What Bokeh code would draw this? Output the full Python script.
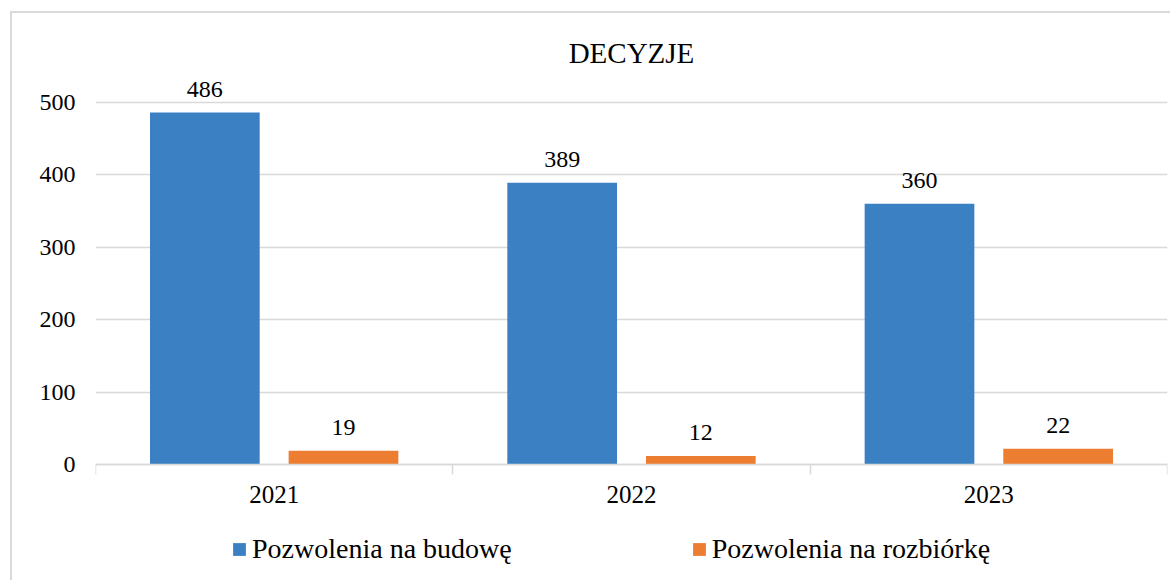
import numpy as np
from bokeh.plotting import figure
from bokeh.models import (Range1d, FixedTicker, Legend, LegendItem, ColumnDataSource)
from bokeh.core.properties import value
from bokeh.embed import file_html
from bokeh.resources import INLINE

# ---- data ----
years = ["2021", "2022", "2023"]
budowa = [486, 389, 360]
rozbiorka = [19, 12, 22]
series_names = ["Pozwolenia na budowę", "Pozwolenia na rozbiórkę"]
y_ticks = [0, 100, 200, 300, 400, 500]
title_text = "DECYZJE"

FONT = "Liberation Serif"
BLUE = "#3a80c3"
ORANGE = "#ed7d31"
GRID = "#d9d9d9"

centers = np.arange(len(years)) + 0.5
bounds = list(range(len(years) + 1))
off = 0.194
bw = 0.307

src = ColumnDataSource(dict(
    xb=centers - off, xr=centers + off,
    b=budowa, r=rozbiorka,
    bl=[str(v) for v in budowa], rl=[str(v) for v in rozbiorka],
))

# frame extends below the zero line so that the legend can sit inside it
p = figure(frame_width=1072, frame_height=507,
           min_border_left=83, min_border_right=3,
           min_border_top=60, min_border_bottom=0,
           x_range=Range1d(0, len(years)), y_range=Range1d(-160, 540),
           output_backend="svg", toolbar_location=None, title=title_text)

p.title.text_font = FONT
p.title.text_font_size = "29px"
p.title.text_font_style = "normal"
p.title.text_color = "#000000"
p.title.align = "center"
p.title.standoff = 9

p.outline_line_color = None
p.background_fill_color = "white"
p.border_fill_color = "white"
p.styles = {"margin-left": "10px", "margin-top": "11px",
            "border-left": "2px solid #d9d9d9", "border-top": "2px solid #d9d9d9"}

rb = p.vbar(x="xb", top="b", width=bw, source=src, fill_color=BLUE, line_color=None)
rr = p.vbar(x="xr", top="r", width=bw, source=src, fill_color=ORANGE, line_color=None)

for xcol, ycol, tcol in (("xb", "b", "bl"), ("xr", "r", "rl")):
    p.text(x=xcol, y=ycol, text=tcol, source=src, text_align="center",
           text_baseline="alphabetic", y_offset=-23,
           text_font=value(FONT), text_font_size="24px", text_color="#000000")

# y axis
p.yaxis.ticker = FixedTicker(ticks=y_ticks)
p.yaxis.axis_line_color = None
p.yaxis.major_tick_line_color = None
p.yaxis.minor_tick_line_color = None
p.yaxis.major_tick_out = 0
p.yaxis.major_tick_in = 0
p.yaxis.major_label_standoff = 20
p.yaxis.major_label_text_font = FONT
p.yaxis.major_label_text_font_size = "24px"
p.yaxis.major_label_text_color = "#000000"

p.ygrid.ticker = FixedTicker(ticks=y_ticks)
p.ygrid.grid_line_color = GRID
p.ygrid.grid_line_width = 1.5
p.xgrid.grid_line_color = None

# x axis at y = 0: labels at category centres, tick marks at category boundaries
p.xaxis.fixed_location = 0
p.xaxis.ticker = FixedTicker(ticks=[float(c) for c in centers], minor_ticks=bounds)
p.xaxis.major_label_overrides = {float(c): y for c, y in zip(centers, years)}
p.xaxis.axis_line_color = GRID
p.xaxis.axis_line_width = 1.5
p.xaxis.major_tick_line_color = None
p.xaxis.major_tick_out = 0
p.xaxis.major_tick_in = 0
p.xaxis.minor_tick_line_color = GRID
p.xaxis.minor_tick_line_width = 1.5
p.xaxis.minor_tick_out = 10
p.xaxis.minor_tick_in = 0
p.xaxis.major_label_standoff = 11
p.xaxis.major_label_text_font = FONT
p.xaxis.major_label_text_font_size = "25px"
p.xaxis.major_label_text_color = "#000000"

legend = Legend(items=[LegendItem(label=series_names[0], renderers=[rb]),
                       LegendItem(label=series_names[1], renderers=[rr])],
                orientation="horizontal", location=(136, 15))
legend.border_line_color = None
legend.background_fill_alpha = 0
legend.label_text_font = FONT
legend.label_text_font_size = "28px"
legend.label_text_color = "#000000"
legend.glyph_width = 16
legend.glyph_height = 16
legend.spacing = 179
legend.label_standoff = 5
legend.padding = 0
legend.margin = 0
p.add_layout(legend, "center")

open("out.html", "w").write(file_html(p, INLINE))
